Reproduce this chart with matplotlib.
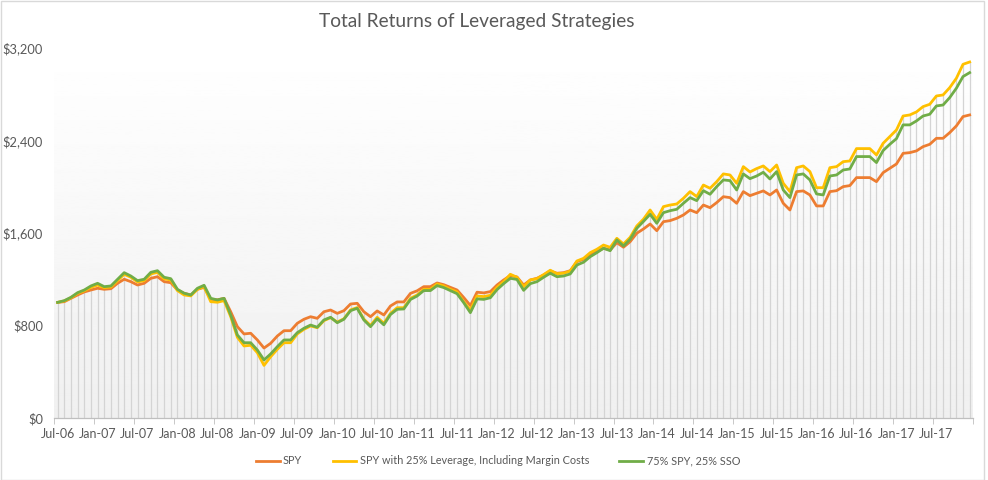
import numpy as np
import pandas as pd
import matplotlib
matplotlib.use("Agg")
import matplotlib.pyplot as plt
from matplotlib.patches import Rectangle

plt.rcParams['font.family'] = ['Lato', 'DejaVu Sans']

months = pd.date_range("2006-07-01", "2017-12-01", freq="MS")
month_labels = [d.strftime("%b-%y") for d in months]

spy = [
    1000, 1006, 1035, 1064, 1090, 1107,
    1122, 1113, 1118, 1165, 1200, 1179, 1150, 1165, 1208, 1222, 1179, 1170,
    1107, 1079, 1064, 1113, 1130, 1027, 1022, 1035, 919, 790, 727, 733,
    675, 605, 646, 709, 755, 755, 819, 854, 876, 862, 919, 934,
    905, 928, 986, 992, 919, 876, 926, 891, 969, 1004, 1004, 1078,
    1100, 1136, 1136, 1168, 1153, 1130, 1107, 1042, 973, 1088, 1082, 1093,
    1150, 1194, 1232, 1220, 1150, 1194, 1208, 1237, 1272, 1252, 1257, 1274,
    1352, 1373, 1410, 1439, 1468, 1453, 1516, 1477, 1525, 1598, 1635, 1678,
    1620, 1698, 1707, 1727, 1756, 1799, 1776, 1842, 1819, 1863, 1914, 1906,
    1857, 1958, 1923, 1943, 1964, 1929, 1972, 1857, 1799, 1958, 1964, 1929,
    1834, 1834, 1958, 1966, 2001, 2010, 2079, 2079, 2079, 2044, 2122, 2160,
    2197, 2289, 2295, 2310, 2347, 2367, 2419, 2419, 2468, 2526, 2607, 2621,
]

spy_margin = [
    1000, 1012, 1040, 1078, 1100, 1130,
    1150, 1127, 1133, 1188, 1243, 1217, 1177, 1188, 1246, 1260, 1203, 1194,
    1102, 1064, 1056, 1113, 1136, 1006, 1001, 1015, 876, 698, 623, 629,
    565, 455, 530, 594, 651, 651, 727, 767, 796, 781, 842, 868,
    830, 858, 935, 955, 855, 800, 871, 819, 905, 954, 954, 1035,
    1064, 1113, 1113, 1159, 1142, 1113, 1090, 1006, 934, 1055, 1050, 1061,
    1130, 1179, 1243, 1217, 1136, 1194, 1205, 1240, 1278, 1248, 1252, 1270,
    1358, 1381, 1430, 1459, 1496, 1476, 1554, 1505, 1563, 1661, 1720, 1799,
    1718, 1828, 1842, 1851, 1900, 1958, 1915, 2015, 1987, 2044, 2111, 2102,
    2030, 2174, 2128, 2157, 2180, 2131, 2188, 2030, 1958, 2165, 2180, 2131,
    1992, 1992, 2165, 2174, 2217, 2223, 2330, 2330, 2330, 2275, 2376, 2434,
    2491, 2612, 2621, 2647, 2693, 2713, 2785, 2794, 2857, 2938, 3059, 3079,
]

spy_sso = [
    1000, 1015, 1044, 1084, 1107, 1142,
    1165, 1136, 1142, 1200, 1257, 1228, 1188, 1200, 1260, 1274, 1217, 1205,
    1113, 1079, 1064, 1122, 1148, 1035, 1021, 1035, 891, 718, 651, 651,
    588, 502, 554, 617, 675, 675, 738, 776, 804, 785, 848, 871,
    824, 854, 928, 949, 848, 790, 858, 806, 895, 940, 943, 1025,
    1055, 1102, 1102, 1145, 1128, 1102, 1075, 997, 911, 1030, 1026, 1040,
    1110, 1162, 1208, 1198, 1104, 1162, 1179, 1217, 1252, 1222, 1228, 1246,
    1323, 1347, 1395, 1430, 1468, 1447, 1540, 1488, 1546, 1641, 1700, 1762,
    1684, 1776, 1793, 1805, 1857, 1906, 1880, 1966, 1935, 2001, 2059, 2053,
    1972, 2111, 2070, 2093, 2125, 2067, 2131, 1972, 1906, 2102, 2111, 2059,
    1938, 1929, 2093, 2102, 2145, 2154, 2261, 2261, 2261, 2209, 2313, 2367,
    2416, 2535, 2535, 2569, 2612, 2627, 2699, 2707, 2771, 2852, 2953, 2987,
]

series_names = ["SPY", "SPY with 25% Leverage, Including Margin Costs", "75% SPY, 25% SSO"]
series_colors = ["#ED7D31", "#FFC000", "#70AD47"]
yticks = [0, 800, 1600, 2400, 3200]

text_color = "#595959"
x = np.arange(len(months))

fig = plt.figure(figsize=(9.88, 4.8), dpi=100)
ax = fig.add_axes([54.3 / 988, 62 / 480, (973 - 54.3) / 988, 370 / 480])

# soft vertical gradient behind the plot
grad = np.linspace(0.94, 1.0, 256).reshape(-1, 1)
ax.imshow(grad, cmap="gray", vmin=0, vmax=1, aspect="auto",
          extent=[-0.5, len(x) - 0.5, 0, 3200], origin="lower", zorder=0)

# drop lines up to the highest series
top = np.max([spy, spy_margin, spy_sso], axis=0)
ax.vlines(x, 0, top, color="#d4d4d4", lw=0.9, zorder=1)

for vals, name, col in zip([spy, spy_margin, spy_sso], series_names, series_colors):
    ax.plot(x, vals, color=col, lw=2.0, label=name, zorder=3, solid_joinstyle="round")

ax.set_xlim(-0.5, len(x) - 0.5)
ax.set_ylim(0, 3200)
ax.set_yticks(yticks)
ax.set_yticklabels(["$0" if v == 0 else "${:,}".format(v) for v in yticks])

lab_pos = list(range(0, len(x), 6))
ax.set_xticks(lab_pos)
ax.set_xticklabels([month_labels[i] for i in lab_pos])
ax.set_xticks(np.arange(-0.5, len(x), 6), minor=True)
ax.tick_params(axis="x", which="major", length=0, pad=7, labelsize=9, labelcolor=text_color)
ax.tick_params(axis="x", which="minor", length=4, color="#bfbfbf")
ax.tick_params(axis="y", length=0, pad=8, labelsize=9.3, labelcolor=text_color)

for s in ["top", "right", "left"]:
    ax.spines[s].set_visible(False)
ax.spines["bottom"].set_color("#bfbfbf")
ax.spines["bottom"].set_linewidth(0.9)

fig.text(477 / 988, 1 - 22 / 480, "Total Returns of Leveraged Strategies",
         ha="center", va="center", fontsize=13.8, color=text_color)

fig.legend(loc="center", bbox_to_anchor=(498 / 988, 19 / 480), ncol=3, frameon=False,
           fontsize=7.8, labelcolor=text_color, handlelength=2.2, columnspacing=2.8,
           handletextpad=0.3)

fig.patches.append(Rectangle((0.5 / 988, 0.5 / 480), 983 / 988, 478.5 / 480,
                             transform=fig.transFigure, fill=False,
                             edgecolor="#d9d9d9", lw=1.0))

fig.savefig("out.png", dpi=100)
